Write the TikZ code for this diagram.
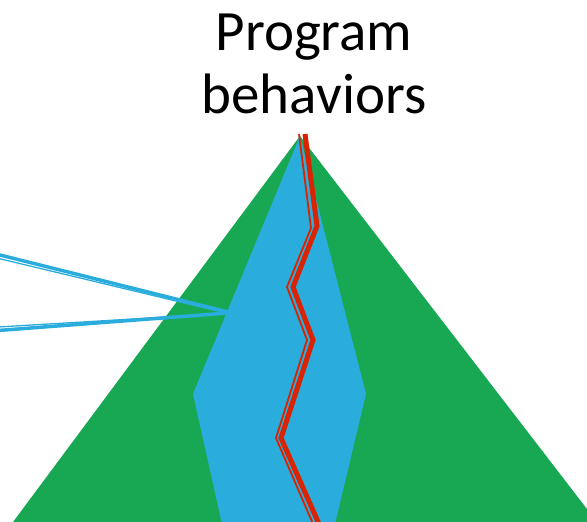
\documentclass[tikz,border=0pt]{standalone}
\usepackage{fontspec}
\setmainfont{Carlito}
\definecolor{pgreen}{HTML}{18A854}
\definecolor{pblue}{HTML}{2AADDC}
\definecolor{pred}{HTML}{DA2300}
\tikzset{
  thickred/.style={draw=pred, line width=5pt, line join=miter},
  thinred/.style={draw=pred, line width=1.8pt, line join=miter},
  thickblue/.style={draw=pblue, line width=3.5pt},
  thinblue/.style={draw=pblue, line width=1.3pt},
  title/.style={font=\fontsize{57}{63}\selectfont, inner sep=0pt, anchor=base}
}
\begin{document}
\begin{tikzpicture}[x=1pt,y=-1pt]
\useasboundingbox (0,0) rectangle (587,522);
\clip (0,0) rectangle (587,522);
% green triangle
\fill[pgreen] (300,136) -- (13,522) -- (597,522) -- cycle;
% blue inner shape
\fill[pblue] (300,136) -- (366,394) -- (335,524) -- (222,524) -- (193,394) -- cycle;
% blue lines from the left
\draw[thickblue] (-2,254.5) -- (228,312);
\draw[thinblue] (-2,258.3) -- (226,313);
\draw[thinblue] (-2,327) -- (226,313.5);
\draw[thickblue] (-2,330.5) -- (228,313);
% red zigzags
\draw[thinred] (299,134) -- (311,228) -- (287,287) -- (307,340) -- (276,438) -- (313,524);
\draw[thickred] (305,134) -- (317,226) -- (293,287) -- (313,340) -- (281,438) -- (319,524);
% title
\node[title] (title1) at (314,50) {Program};
\node[title] (title2) at (314,113) {behaviors};
\end{tikzpicture}
\end{document}
